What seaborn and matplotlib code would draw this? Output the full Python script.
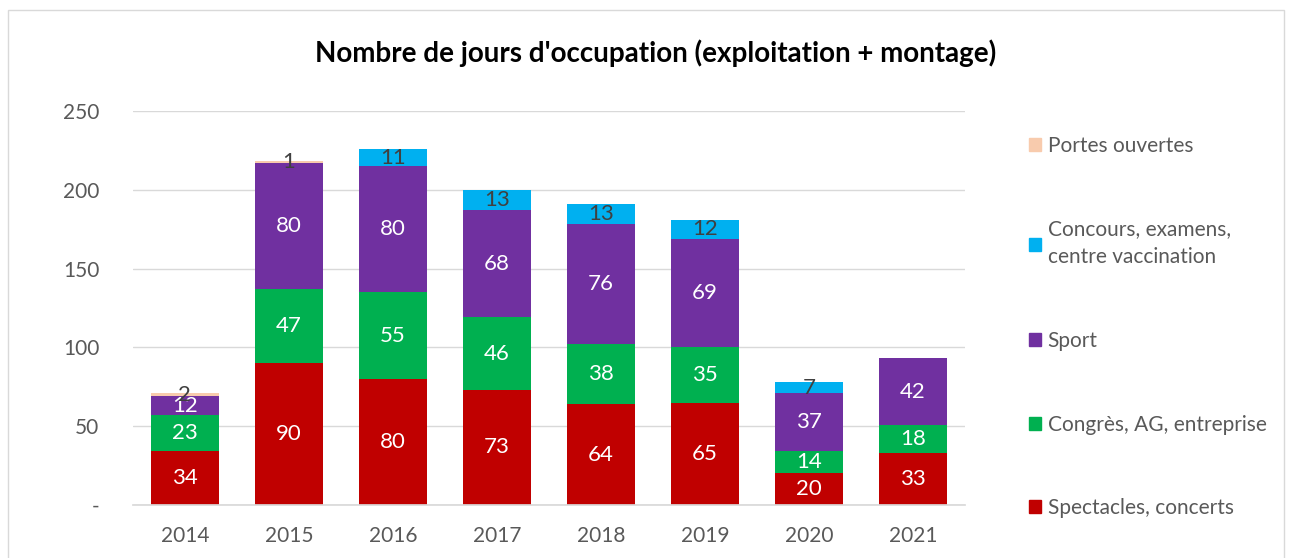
import numpy as np
import pandas as pd
import matplotlib
matplotlib.use("Agg")
import matplotlib.pyplot as plt
import matplotlib.patches as mpatches
import seaborn as sns

years = ["2014", "2015", "2016", "2017", "2018", "2019", "2020", "2021"]
spectacles = [34, 90, 80, 73, 64, 65, 20, 33]
congres = [23, 47, 55, 46, 38, 35, 14, 18]
sport = [12, 80, 80, 68, 76, 69, 37, 42]
concours = [0, 0, 11, 13, 13, 12, 7, 0]
portes = [2, 1, 0, 0, 0, 0, 0, 0]

series_names = ["Spectacles, concerts", "Congrès, AG, entreprise", "Sport",
                "Concours, examens,\ncentre vaccination", "Portes ouvertes"]
series_vals = [spectacles, congres, sport, concours, portes]
colors = ["#C00000", "#00B050", "#7030A0", "#00B0F0", "#F8CBAD"]
label_colors = ["white", "white", "white", "#404040", "#404040"]

sns.set_theme(style="white")
plt.rcParams['font.family'] = ['Lato', 'DejaVu Sans']

fig = plt.figure(figsize=(12.9, 5.58), dpi=100)
ax = fig.add_axes([0.103, 0.095, 0.645, 0.706])

# stacked bars: draw cumulative totals from the top layer down
cum = np.cumsum(np.array(series_vals), axis=0)
for i in range(len(series_vals) - 1, -1, -1):
    df = pd.DataFrame({"year": years, "value": cum[i]})
    sns.barplot(data=df, x="year", y="value", color=colors[i], width=0.65,
                saturation=1, linewidth=0, ax=ax, zorder=2)

# data labels
for i, vals in enumerate(series_vals):
    base = cum[i] - np.array(vals)
    for j, v in enumerate(vals):
        if v == 0:
            continue
        ax.text(j, base[j] + v / 2, str(v), ha='center', va='center',
                fontsize=16, color=label_colors[i], zorder=3)

ax.set_ylim(0, 250)
ax.set_xlim(-0.5, 7.5)
ax.set_yticks(range(0, 251, 50))
ax.set_yticklabels(["-"] + [str(t) for t in range(50, 251, 50)])
ax.yaxis.grid(True, color="#D9D9D9", linewidth=1)
ax.set_axisbelow(True)
for s in ["top", "right", "left"]:
    ax.spines[s].set_visible(False)
ax.spines["bottom"].set_color("#D9D9D9")
ax.tick_params(axis='both', labelsize=15, colors="#595959", length=0)
ax.tick_params(axis='y', pad=24)
ax.tick_params(axis='x', pad=15)
ax.set_xlabel("")
ax.set_ylabel("")

fig.text(0.508, 0.905, "Nombre de jours d'occupation (exploitation + montage)",
         ha='center', va='center', fontsize=20, fontweight='bold', color="black")

handles = [mpatches.Patch(color=colors[i], label=series_names[i])
           for i in range(len(colors) - 1, -1, -1)]
leg = fig.legend(handles=handles, loc='upper left', bbox_to_anchor=(0.783, 0.79),
                 frameon=False, fontsize=15, labelcolor="#595959",
                 handlelength=0.6, handleheight=0.6, handletextpad=0.3,
                 labelspacing=3.05)
for t in leg.get_texts():
    t.set_linespacing(1.5)

# outer chart border
fig.patches.append(mpatches.Rectangle((0.006, -0.1), 0.989, 1.082,
                                      transform=fig.transFigure, fill=False,
                                      edgecolor="#D9D9D9", linewidth=1))

plt.savefig("out.png", dpi=100)
plt.close()
